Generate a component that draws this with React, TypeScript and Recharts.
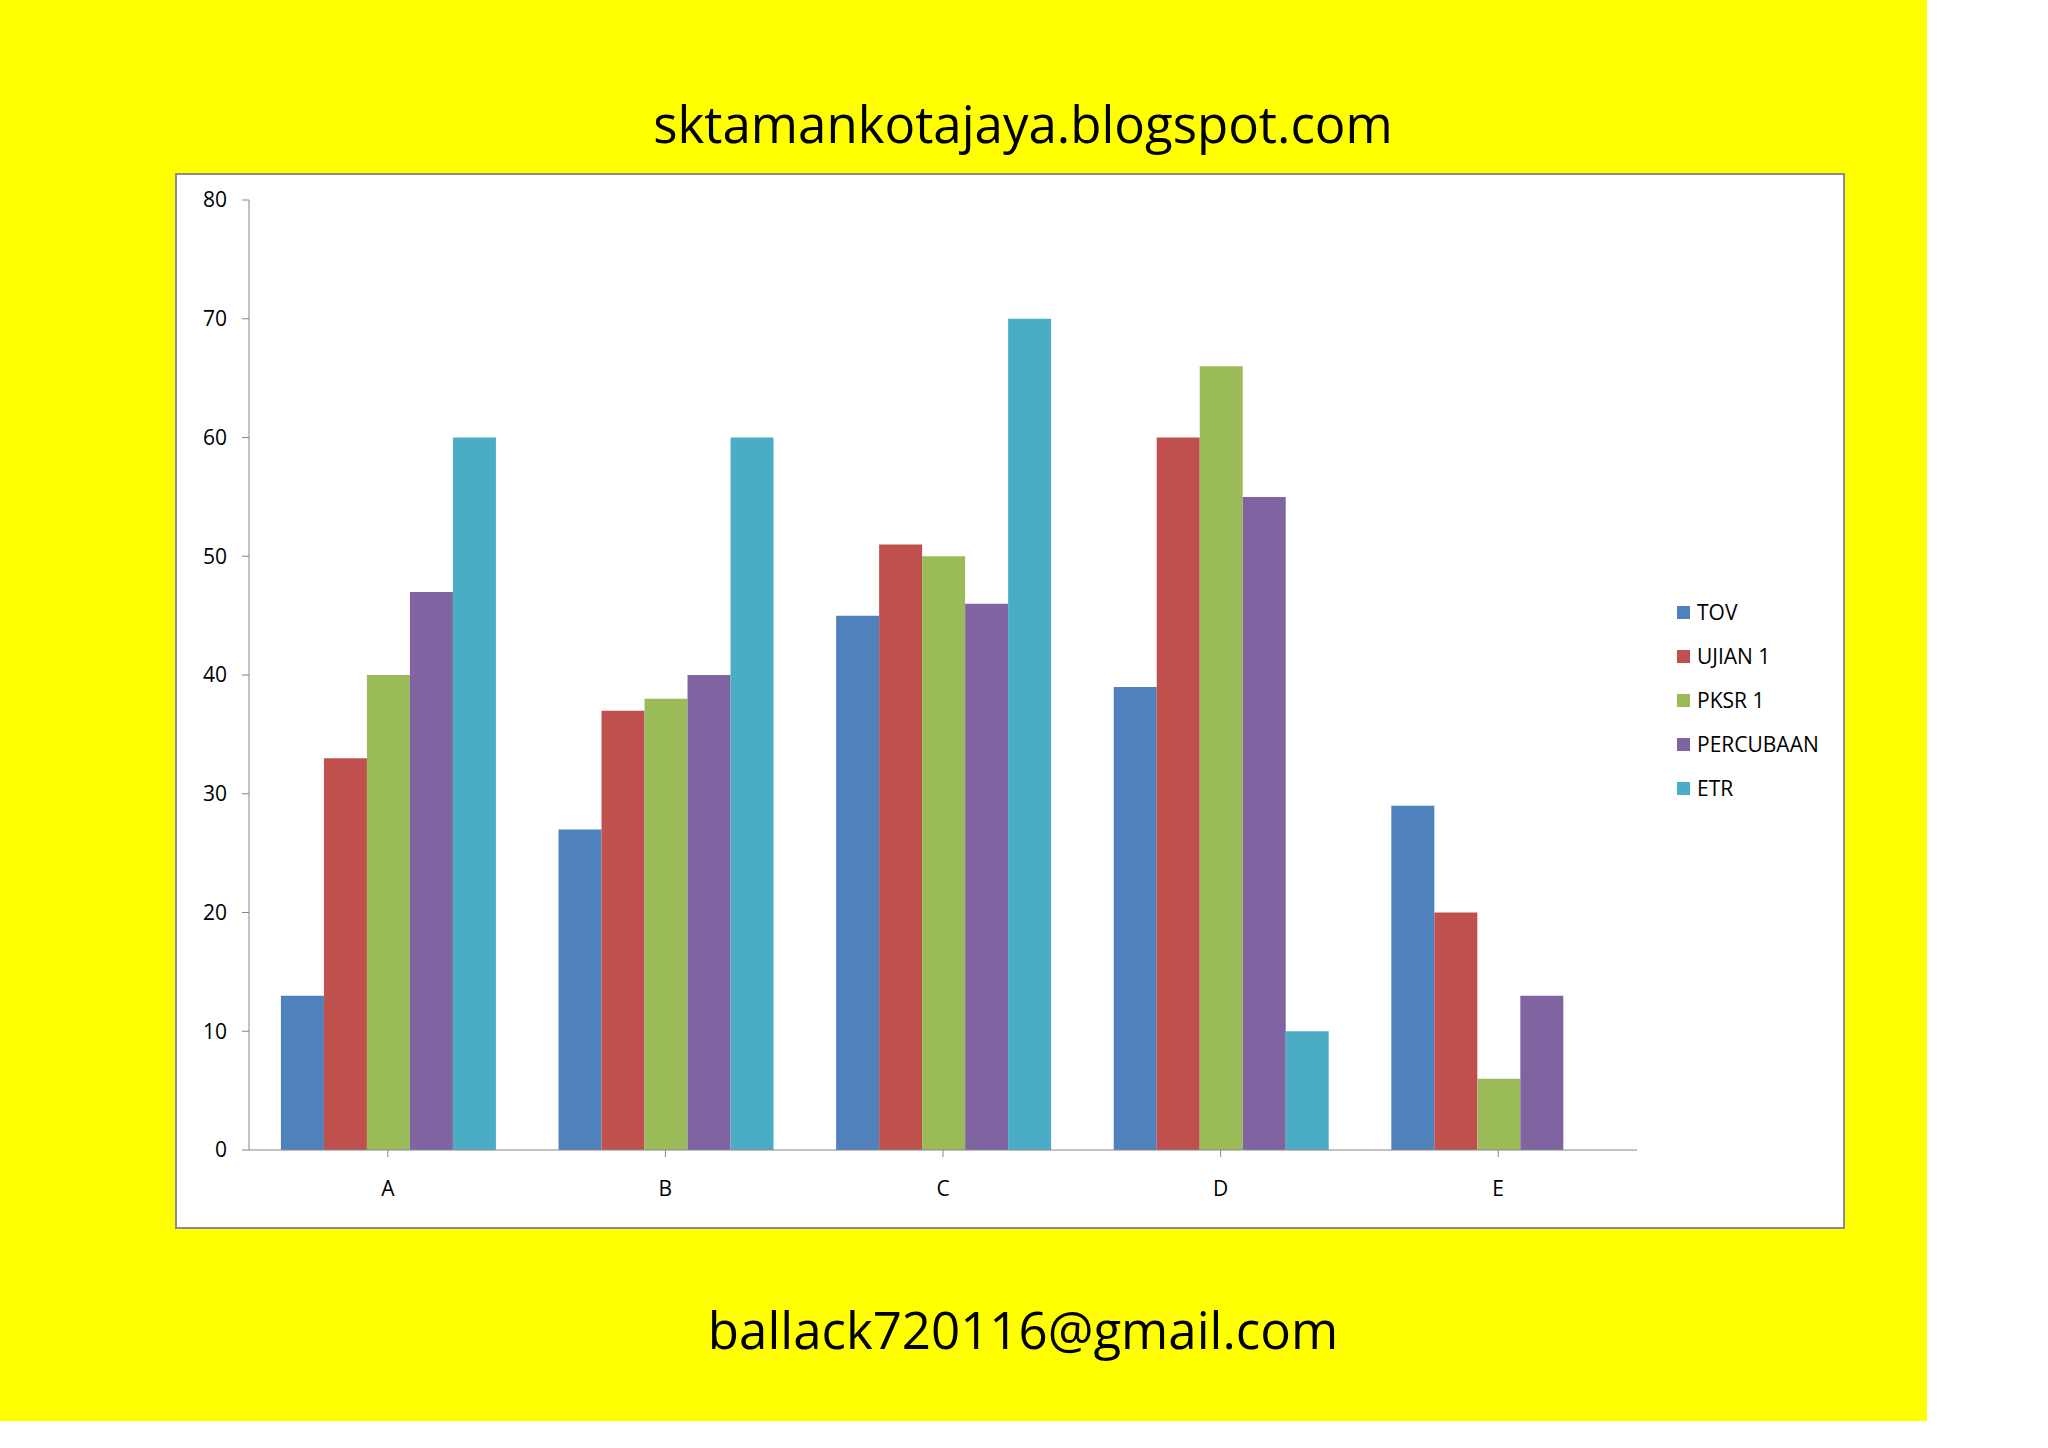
import { BarChart, Bar, XAxis, YAxis } from "recharts";

// categories and series
const categories = ["A", "B", "C", "D", "E"];
const tov = [13, 27, 45, 39, 29];
const ujian1 = [33, 37, 51, 60, 20];
const pksr1 = [40, 38, 50, 66, 6];
const percubaan = [47, 40, 46, 55, 13];
const etr = [60, 60, 70, 10, null];
const yTicks = [0, 10, 20, 30, 40, 50, 60, 70, 80];

const series = [
  { key: "tov", name: "TOV", color: "#4F81BD", values: tov },
  { key: "ujian1", name: "UJIAN 1", color: "#C0504D", values: ujian1 },
  { key: "pksr1", name: "PKSR 1", color: "#9BBB59", values: pksr1 },
  { key: "percubaan", name: "PERCUBAAN", color: "#8064A2", values: percubaan },
  { key: "etr", name: "ETR", color: "#4BACC6", values: etr },
];

const data = categories.map((c, i) => {
  const row: Record<string, any> = { cat: c };
  series.forEach((s) => (row[s.key] = s.values[i]));
  return row;
});

const FONT = "'Open Sans', sans-serif";
const AXIS = "#868686";

// legend sits in the chart box to the right of the plot, drawn as plain html
const LegendList = () => (
  <div
    style={{
      position: "absolute",
      left: 1500,
      top: 415,
      fontFamily: FONT,
      fontSize: 21,
      color: "#000",
    }}
  >
    {series.map((s) => (
      <div key={s.key} style={{ height: 44, display: "flex", alignItems: "center" }}>
        <span style={{ width: 13, height: 13, background: s.color, display: "inline-block", marginRight: 7 }} />
        <span>{s.name}</span>
      </div>
    ))}
  </div>
);

const textStyle = {
  position: "absolute" as const,
  left: 0,
  width: 2046,
  textAlign: "center" as const,
  fontFamily: FONT,
  fontSize: 51,
  lineHeight: "68px",
  color: "#000",
};

export default function App() {
  return (
    <div style={{ position: "absolute", left: 0, top: 0, width: 2048, height: 1448, background: "#fff" }}>
      <div style={{ position: "absolute", left: 0, top: 0, width: 1927, height: 1421, background: "#FFFF00" }} />
      <div style={{ ...textStyle, top: 89 }}>sktamankotajaya.blogspot.com</div>
      <div style={{ ...textStyle, top: 1295 }}>ballack720116@gmail.com</div>
      <div
        style={{
          position: "absolute",
          left: 175,
          top: 173,
          width: 1670,
          height: 1056,
          boxSizing: "border-box",
          border: "2px solid #8c8c8c",
          background: "#fff",
        }}
      >
        <BarChart
          width={1666}
          height={1052}
          data={data}
          margin={{ top: 25, right: 206, bottom: 47, left: 0 }}
          barCategoryGap="11.5%"
          barGap={0}
        >
          <XAxis
            dataKey="cat"
            height={30}
            stroke={AXIS}
            tickSize={7}
            tickMargin={24}
            tickLine={{ stroke: AXIS }}
            tick={{ fill: "#000", fontSize: 21, fontFamily: FONT }}
          />
          <YAxis
            width={72}
            domain={[0, 80]}
            ticks={yTicks}
            interval={0}
            stroke={AXIS}
            tickSize={7}
            tickMargin={15}
            tickLine={{ stroke: AXIS }}
            tick={{ fill: "#000", fontSize: 21, fontFamily: FONT }}
          />
          {series.map((s) => (
            <Bar key={s.key} dataKey={s.key} name={s.name} fill={s.color} isAnimationActive={false} />
          ))}
        </BarChart>
        <LegendList />
      </div>
    </div>
  );
}
